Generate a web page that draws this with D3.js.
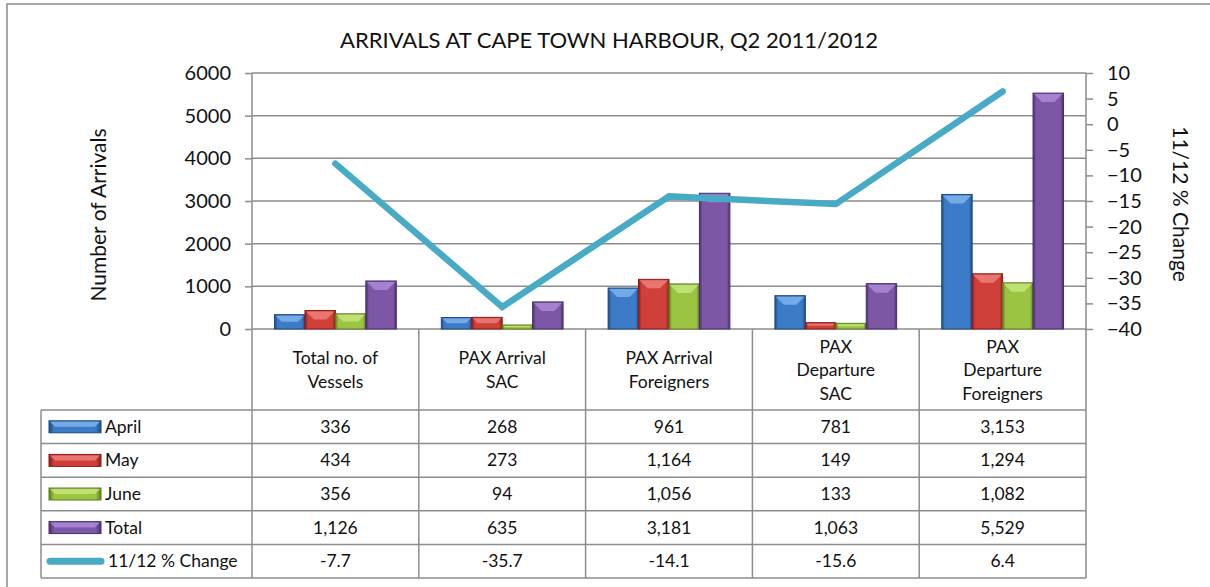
<!DOCTYPE html>
<html>
<head>
<meta charset="utf-8">
<title>Arrivals at Cape Town Harbour</title>
<script src="https://cdn.jsdelivr.net/npm/d3@7"></script>
<style>
  body { margin: 0; background: #fff; }
  svg text { font-family: "Lato", "Open Sans", sans-serif; fill: #111; }
</style>
</head>
<body>
<script>
// Chart data
const categories = [
  "Total no. of|Vessels",
  "PAX Arrival|SAC",
  "PAX Arrival|Foreigners",
  "PAX|Departure|SAC",
  "PAX|Departure|Foreigners"
];
const seriesNames = ["April", "May", "June", "Total"];
const april = [336, 268, 961, 781, 3153];
const may = [434, 273, 1164, 149, 1294];
const june = [356, 94, 1056, 133, 1082];
const total = [1126, 635, 3181, 1063, 5529];
const change = [-7.7, -35.7, -14.1, -15.6, 6.4];
const changeName = "11/12 % Change";
const leftTicks = [0, 1000, 2000, 3000, 4000, 5000, 6000];
const rightTicks = [-40, -35, -30, -25, -20, -15, -10, -5, 0, 5, 10];

const seriesValues = [april, may, june, total];
const palette = [
  { base: "#3b7bc8", light: "#7fb4ec", dark: "#1d4a80" },
  { base: "#d0403b", light: "#ec7f7a", dark: "#8a1c19" },
  { base: "#9cc443", light: "#c6e67c", dark: "#5f7d1d" },
  { base: "#7d56a6", light: "#ab88d6", dark: "#48306b" }
];
const lineColor = "#48abc5";
const gridColor = "#8c8c8c";

const w = 1210, h = 587;
const plot = { left: 252, right: 1086, top: 73, bottom: 329 };
const headerBottom = 410;
const rowH = 33.6;
const tableLeft = 41;

const svg = d3.select("body").append("svg")
  .attr("width", w)
  .attr("height", h);

// gradients for the bevelled bars
const defs = svg.append("defs");
palette.forEach(function(p, i) {
  const g = defs.append("linearGradient")
    .attr("id", "grad" + i)
    .attr("x1", "0").attr("x2", "1").attr("y1", "0").attr("y2", "0");
  g.append("stop").attr("offset", "0").attr("stop-color", p.dark);
  g.append("stop").attr("offset", "0.1").attr("stop-color", p.base);
  g.append("stop").attr("offset", "0.9").attr("stop-color", p.base);
  g.append("stop").attr("offset", "1").attr("stop-color", p.dark);
});

// frame: only top and left edges show in the picture
svg.append("path")
  .attr("d", "M7,590 L7,4 L1210,4")
  .attr("fill", "none")
  .attr("stroke", gridColor)
  .attr("stroke-width", 1.5);

// title
svg.append("text")
  .attr("x", 609).attr("y", 48)
  .attr("text-anchor", "middle")
  .style("font-size", "22px")
  .text("ARRIVALS AT CAPE TOWN HARBOUR, Q2 2011/2012");

// scales
const x0 = d3.scaleBand()
  .domain(categories)
  .range([plot.left, plot.right]);
const gap = x0.bandwidth() * 0.135;
const x1 = d3.scaleBand()
  .domain(seriesNames)
  .range([gap, x0.bandwidth() - gap]);
const yLeft = d3.scaleLinear()
  .domain([0, 6000])
  .range([plot.bottom, plot.top]);
const yRight = d3.scaleLinear()
  .domain([-40, 10])
  .range([plot.bottom, plot.top]);

// gridlines
svg.append("g")
  .selectAll("line")
  .data(leftTicks)
  .enter()
  .append("line")
  .attr("x1", plot.left).attr("x2", plot.right)
  .attr("y1", d => yLeft(d)).attr("y2", d => yLeft(d))
  .attr("stroke", gridColor)
  .attr("stroke-width", 1.5);

// left axis
const leftAxis = svg.append("g")
  .attr("transform", `translate(${plot.left},0)`)
  .call(d3.axisLeft(yLeft).tickValues(leftTicks).tickFormat(d3.format("d"))
    .tickSize(7).tickPadding(14));
leftAxis.select(".domain").remove();
leftAxis.selectAll("line").attr("stroke", gridColor).attr("stroke-width", 1.5);
leftAxis.selectAll("text")
  .style("font-size", "20px")
  .style("font-family", "Lato, sans-serif")
  .attr("fill", "#111");

// right axis
const rightAxis = svg.append("g")
  .attr("transform", `translate(${plot.right},0)`)
  .call(d3.axisRight(yRight).tickValues(rightTicks).tickSize(7).tickPadding(14));
rightAxis.select(".domain").remove();
rightAxis.selectAll("line").attr("stroke", gridColor).attr("stroke-width", 1.5);
rightAxis.selectAll("text")
  .style("font-size", "20px")
  .style("font-family", "Lato, sans-serif")
  .attr("fill", "#111");

// axis titles
svg.append("text")
  .attr("transform", "translate(106,215) rotate(-90)")
  .attr("text-anchor", "middle")
  .style("font-size", "21px")
  .text("Number of Arrivals");
svg.append("text")
  .attr("transform", "translate(1173,204) rotate(90)")
  .attr("text-anchor", "middle")
  .style("font-size", "21px")
  .text(changeName);

// bars with bevel
function drawBar(g, x, y, bw, bh, i) {
  g.append("rect")
    .attr("x", x).attr("y", y)
    .attr("width", bw).attr("height", bh)
    .attr("fill", "url(#grad" + i + ")")
    .attr("stroke", palette[i].dark)
    .attr("stroke-width", 1);
  const b = Math.min(9, bh / 2, bw / 3);
  g.append("polygon")
    .attr("points", [[x + 1, y + 1], [x + bw - 1, y + 1],
                     [x + bw - b, y + b], [x + b, y + b]].map(p => p.join(",")).join(" "))
    .attr("fill", palette[i].light)
    .attr("opacity", 0.85);
}

const barG = svg.append("g");
seriesValues.forEach(function(values, i) {
  values.forEach(function(v, j) {
    const bx = x0(categories[j]) + x1(seriesNames[i]);
    const by = yLeft(v);
    drawBar(barG, bx, by, x1.bandwidth(), yLeft(0) - by, i);
  });
});

// % change line
const line = d3.line()
  .x((d, j) => x0(categories[j]) + x0.bandwidth() / 2)
  .y(d => yRight(d));
svg.append("path")
  .datum(change)
  .attr("d", line)
  .attr("fill", "none")
  .attr("stroke", lineColor)
  .attr("stroke-width", 6.5)
  .attr("stroke-linecap", "round")
  .attr("stroke-linejoin", "miter");

// data table
const tableBottom = headerBottom + rowH * 5;
const tableG = svg.append("g");

// vertical lines
const vx = categories.map(c => x0(c)).concat([plot.right]);
tableG.selectAll(".vline")
  .data(vx)
  .enter()
  .append("line")
  .attr("x1", d => d).attr("x2", d => d)
  .attr("y1", (d, i) => (i === 0 || i === vx.length - 1) ? plot.top : plot.bottom)
  .attr("y2", tableBottom)
  .attr("stroke", gridColor)
  .attr("stroke-width", 1.5);
tableG.append("line")
  .attr("x1", tableLeft).attr("x2", tableLeft)
  .attr("y1", headerBottom).attr("y2", tableBottom)
  .attr("stroke", gridColor).attr("stroke-width", 1.5);

// horizontal lines
const hy = d3.range(6).map(i => headerBottom + i * rowH);
tableG.selectAll(".hline")
  .data(hy)
  .enter()
  .append("line")
  .attr("x1", tableLeft).attr("x2", plot.right)
  .attr("y1", d => d).attr("y2", d => d)
  .attr("stroke", gridColor)
  .attr("stroke-width", 1.5);

// category labels
categories.forEach(function(c, j) {
  const lines = c.split("|");
  const cx = x0(c) + x0.bandwidth() / 2;
  const lh = 23.5;
  const startY = 370 - (lines.length - 1) * lh / 2 + 6;
  const t = tableG.append("text")
    .attr("text-anchor", "middle")
    .style("font-size", "17.5px");
  lines.forEach(function(l, k) {
    t.append("tspan")
      .attr("x", cx)
      .attr("y", startY + k * lh)
      .text(l);
  });
});

// rows
const fmt = d3.format(",");
const rows = seriesValues.map((vals, i) => ({ name: seriesNames[i], vals: vals.map(fmt), i: i }))
  .concat([{ name: changeName, vals: change.map(d => d.toFixed(1)), i: 4 }]);

rows.forEach(function(r, k) {
  const cy = headerBottom + k * rowH + rowH / 2;
  if (r.i < 4) {
    drawBar(tableG, 49, cy - 6, 52, 12, r.i);
    tableG.append("text")
      .attr("x", 105).attr("y", cy + 6)
      .style("font-size", "17.5px")
      .text(r.name);
  } else {
    tableG.append("line")
      .attr("x1", 50).attr("x2", 101)
      .attr("y1", cy).attr("y2", cy)
      .attr("stroke", lineColor)
      .attr("stroke-width", 7)
      .attr("stroke-linecap", "round");
    tableG.append("text")
      .attr("x", 108).attr("y", cy + 6)
      .style("font-size", "17.5px")
      .text(r.name);
  }
  r.vals.forEach(function(v, j) {
    tableG.append("text")
      .attr("x", x0(categories[j]) + x0.bandwidth() / 2)
      .attr("y", cy + 6)
      .attr("text-anchor", "middle")
      .style("font-size", "17.5px")
      .text(v);
  });
});
</script>
</body>
</html>
